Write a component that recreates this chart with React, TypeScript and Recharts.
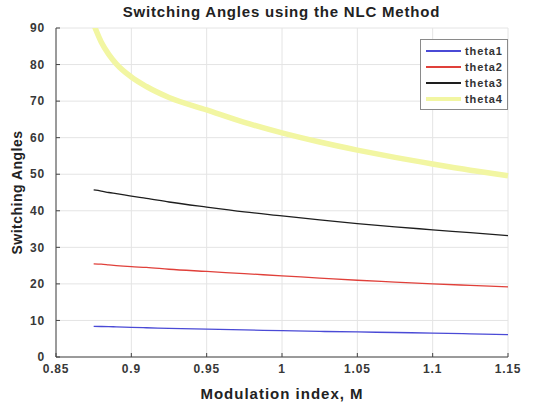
import React from 'react';
import { LineChart, Line, XAxis, YAxis, CartesianGrid } from 'recharts';

// modulation index samples
const mIndex = [0.875, 0.88, 0.885, 0.89, 0.9, 0.91, 0.925, 0.95, 0.975, 1.0, 1.025, 1.05, 1.075, 1.1, 1.125, 1.15];
const theta1 = [8.4, 8.35, 8.3, 8.25, 8.1, 8.0, 7.85, 7.6, 7.4, 7.2, 7.0, 6.85, 6.7, 6.55, 6.35, 6.1];
const theta2 = [25.5, 25.4, 25.2, 25.0, 24.7, 24.5, 24.0, 23.4, 22.8, 22.2, 21.6, 21.0, 20.5, 20.0, 19.6, 19.2];
const theta3 = [45.7, 45.4, 45.0, 44.7, 44.0, 43.4, 42.4, 41.0, 39.7, 38.6, 37.5, 36.5, 35.6, 34.8, 34.0, 33.2];
const theta4 = [91, 86.2, 82.8, 80.2, 76.6, 74.0, 71.0, 67.6, 64.2, 61.3, 58.8, 56.6, 54.6, 52.8, 51.1, 49.6];

const xTicks = [0.85, 0.9, 0.95, 1, 1.05, 1.1, 1.15];
const yTicks = [0, 10, 20, 30, 40, 50, 60, 70, 80, 90];

const SERIES = [
  { key: 'theta1', color: '#4a4ad6', width: 1.3 },
  { key: 'theta2', color: '#e0403a', width: 1.3 },
  { key: 'theta3', color: '#1e1e1e', width: 1.3 },
  { key: 'theta4', color: '#f2f6a2', width: 5.5 },
];

const data = mIndex.map((m, i) => ({
  m,
  theta1: theta1[i],
  theta2: theta2[i],
  theta3: theta3[i],
  theta4: theta4[i],
}));

const font = '"Liberation Sans", Arial, sans-serif';
const tickStyle = { fontFamily: font, fontSize: 12, fontWeight: 'bold', fill: '#383838', letterSpacing: 0.8 };

const LegendBox = () => (
  <div
    style={{
      position: 'absolute',
      left: 420,
      top: 39,
      width: 88,
      height: 71,
      border: '1px solid #8a8a8a',
      background: '#fff',
      fontFamily: font,
      fontSize: 11,
      letterSpacing: 0.9,
      fontWeight: 'bold',
      color: '#333',
      boxSizing: 'border-box',
      paddingTop: 3,
    }}
  >
    {SERIES.map((s) => (
      <div key={s.key} style={{ display: 'flex', alignItems: 'center', height: 16 }}>
        <div style={{ marginLeft: 5, width: 35, height: s.key === 'theta4' ? 4 : 1.5, background: s.color }} />
        <span style={{ marginLeft: 4 }}>{s.key}</span>
      </div>
    ))}
  </div>
);

export default function App() {
  return (
    <div style={{ position: 'absolute', left: 0, top: 0, width: 541, height: 406, background: '#fff' }}>
      <div
        style={{
          position: 'absolute',
          left: 0,
          width: 541,
          top: 3,
          textAlign: 'center',
          paddingLeft: 22,
          boxSizing: 'border-box',
          fontFamily: font,
          fontWeight: 'bold',
          fontSize: 15,
          letterSpacing: 0.8,
          color: '#222',
        }}
      >
        Switching Angles using the NLC Method
      </div>
      <LineChart
        width={541}
        height={406}
        data={data}
        margin={{ top: 28, right: 33, left: 0, bottom: 0 }}
      >
        <CartesianGrid stroke="#e4e4e4" strokeWidth={1} horizontalValues={yTicks} verticalValues={xTicks} />
        <XAxis
          type="number"
          dataKey="m"
          domain={[0.85, 1.15]}
          ticks={xTicks}
          tickFormatter={(v: number) => String(Number(v.toFixed(2)))}
          height={49}
          stroke="#444"
          tickSize={-4}
          tickMargin={11}
          tick={tickStyle}
          label={{
            value: 'Modulation index, M',
            position: 'insideBottom',
            offset: 7,
            style: { fontFamily: font, fontSize: 15, letterSpacing: 1, fontWeight: 'bold', fill: '#222' },
          }}
        />
        <YAxis
          type="number"
          domain={[0, 90]}
          ticks={yTicks}
          width={56}
          stroke="#444"
          tickSize={-4}
          tickMargin={15}
          allowDataOverflow
          tick={tickStyle}
          label={{
            value: 'Switching Angles',
            angle: -90,
            position: 'insideLeft',
            offset: 17,
            style: { textAnchor: 'middle', fontFamily: font, fontSize: 14, letterSpacing: 0.5, fontWeight: 'bold', fill: '#222' },
          }}
        />
        {SERIES.map((s) => (
          <Line
            key={s.key}
            type="monotone"
            dataKey={s.key}
            stroke={s.color}
            strokeWidth={s.width}
            dot={false}
            isAnimationActive={false}
          />
        ))}
      </LineChart>
      <LegendBox />
    </div>
  );
}
